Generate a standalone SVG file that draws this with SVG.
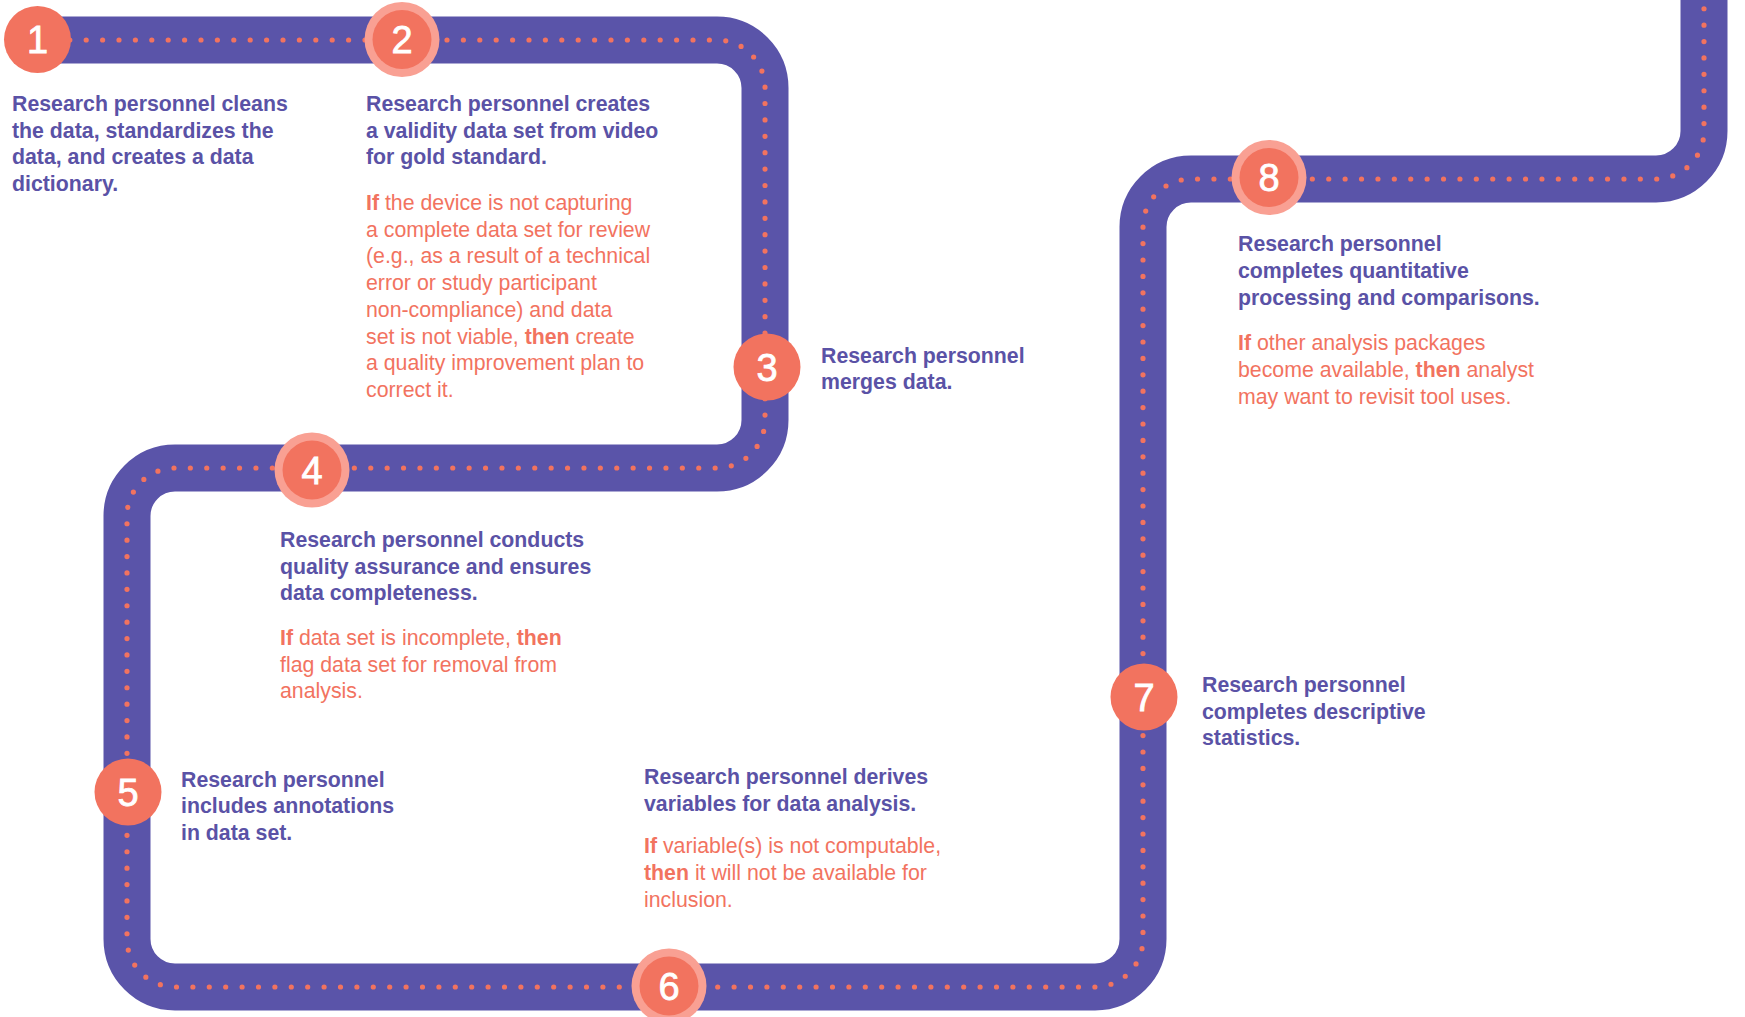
<svg xmlns="http://www.w3.org/2000/svg" width="1745" height="1017" viewBox="0 0 1745 1017">
<style>
.t{font-family:"Liberation Sans",Arial,sans-serif;font-size:21.3px}
.p{font-weight:bold;fill:#5A52A6}
.o{font-weight:normal;fill:#F2735F}
.b{font-weight:bold}
.band{fill:none;stroke:#5A54A9;stroke-width:47}
.dots{fill:none;stroke:#F2735F;stroke-width:5.2;stroke-linecap:round;stroke-dasharray:0 16.4}
.c{fill:#F2735F}
.h{fill:#F9A093}
.n{font-family:"Liberation Sans",Arial,sans-serif;font-size:38px;fill:#fff;stroke:#fff;stroke-width:0.8;text-anchor:middle}
</style>
<rect width="1745" height="1017" fill="#fff"/>
<g id="connectors">
<path class="band" d="M 37 40 H 717 A 48 48 0 0 1 765 88 V 420 A 48 48 0 0 1 717 468 H 175 A 48 48 0 0 0 127 516 V 939 A 48 48 0 0 0 175 987 H 1095 A 48 48 0 0 0 1143 939 V 227 A 48 48 0 0 1 1191 179 H 1656 A 48 48 0 0 0 1704 131 V -30"/>
<path class="dots" d="M 37 40 H 717 A 48 48 0 0 1 765 88 V 420 A 48 48 0 0 1 717 468 H 175 A 48 48 0 0 0 127 516 V 939 A 48 48 0 0 0 175 987 H 1095 A 48 48 0 0 0 1143 939 V 227 A 48 48 0 0 1 1191 179 H 1656 A 48 48 0 0 0 1704 131 V -30"/>
</g>
<g id="step1">
<circle class="c" cx="37.5" cy="39.5" r="33.5"/>
<text class="n" x="37.5" y="53">1</text>
<text class="t p" x="12" y="111">Research personnel cleans</text>
<text class="t p" x="12" y="137.7">the data, standardizes the</text>
<text class="t p" x="12" y="164.4">data, and creates a data</text>
<text class="t p" x="12" y="191.1">dictionary.</text>
</g>
<g id="step2">
<circle class="h" cx="402" cy="39.5" r="37.5"/>
<circle class="c" cx="402" cy="39.5" r="29.5"/>
<text class="n" x="402" y="53">2</text>
<text class="t p" x="366" y="111">Research personnel creates</text>
<text class="t p" x="366" y="137.7">a validity data set from video</text>
<text class="t p" x="366" y="164.4">for gold standard.</text>
<text class="t o" x="366" y="210"><tspan class="b">If</tspan> the device is not capturing</text>
<text class="t o" x="366" y="236.7">a complete data set for review</text>
<text class="t o" x="366" y="263.4">(e.g., as a result of a technical</text>
<text class="t o" x="366" y="290.1">error or study participant</text>
<text class="t o" x="366" y="316.8">non-compliance) and data</text>
<text class="t o" x="366" y="343.5">set is not viable, <tspan class="b">then</tspan> create</text>
<text class="t o" x="366" y="370.2">a quality improvement plan to</text>
<text class="t o" x="366" y="396.9">correct it.</text>
</g>
<g id="step3">
<circle class="c" cx="767" cy="367" r="33.5"/>
<text class="n" x="767" y="380.5">3</text>
<text class="t p" x="821" y="362.5">Research personnel</text>
<text class="t p" x="821" y="389.2">merges data.</text>
</g>
<g id="step4">
<circle class="h" cx="312" cy="470" r="37.5"/>
<circle class="c" cx="312" cy="470" r="29.5"/>
<text class="n" x="312" y="483.5">4</text>
<text class="t p" x="280" y="547">Research personnel conducts</text>
<text class="t p" x="280" y="573.7">quality assurance and ensures</text>
<text class="t p" x="280" y="600.4">data completeness.</text>
<text class="t o" x="280" y="645"><tspan class="b">If</tspan> data set is incomplete, <tspan class="b">then</tspan></text>
<text class="t o" x="280" y="671.7">flag data set for removal from</text>
<text class="t o" x="280" y="698.4">analysis.</text>
</g>
<g id="step5">
<circle class="c" cx="128" cy="792" r="33.5"/>
<text class="n" x="128" y="805.5">5</text>
<text class="t p" x="181" y="786.5">Research personnel</text>
<text class="t p" x="181" y="813.2">includes annotations</text>
<text class="t p" x="181" y="839.9">in data set.</text>
</g>
<g id="step6">
<circle class="h" cx="669" cy="986" r="37.5"/>
<circle class="c" cx="669" cy="986" r="29.5"/>
<text class="n" x="669" y="999.5">6</text>
<text class="t p" x="644" y="784.3">Research personnel derives</text>
<text class="t p" x="644" y="811">variables for data analysis.</text>
<text class="t o" x="644" y="853.3"><tspan class="b">If</tspan> variable(s) is not computable,</text>
<text class="t o" x="644" y="880"><tspan class="b">then</tspan> it will not be available for</text>
<text class="t o" x="644" y="906.7">inclusion.</text>
</g>
<g id="step7">
<circle class="c" cx="1144" cy="697" r="33.5"/>
<text class="n" x="1144" y="710.5">7</text>
<text class="t p" x="1202" y="692">Research personnel</text>
<text class="t p" x="1202" y="718.7">completes descriptive</text>
<text class="t p" x="1202" y="745.4">statistics.</text>
</g>
<g id="step8">
<circle class="h" cx="1269" cy="177.5" r="37.5"/>
<circle class="c" cx="1269" cy="177.5" r="29.5"/>
<text class="n" x="1269" y="191">8</text>
<text class="t p" x="1238" y="251.2">Research personnel</text>
<text class="t p" x="1238" y="277.9">completes quantitative</text>
<text class="t p" x="1238" y="304.6">processing and comparisons.</text>
<text class="t o" x="1238" y="350.3"><tspan class="b">If</tspan> other analysis packages</text>
<text class="t o" x="1238" y="377">become available, <tspan class="b">then</tspan> analyst</text>
<text class="t o" x="1238" y="403.7">may want to revisit tool uses.</text>
</g>
</svg>
